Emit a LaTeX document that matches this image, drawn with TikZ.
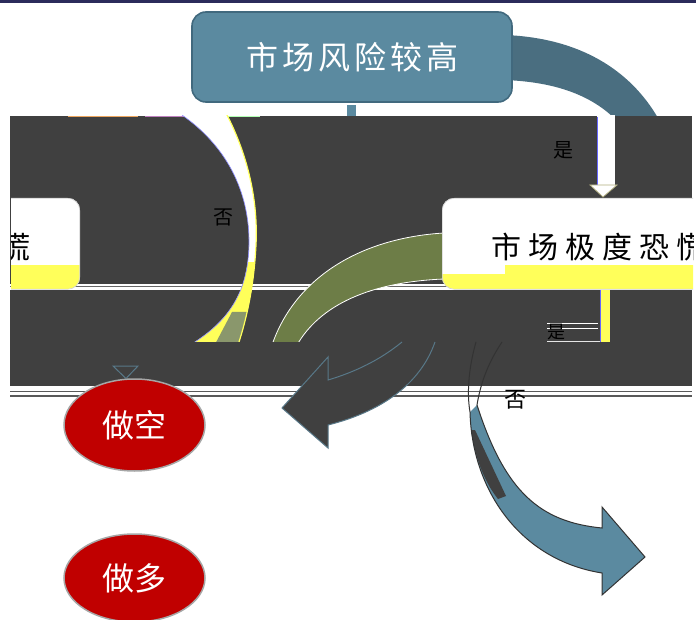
\documentclass[tikz,border=0pt]{standalone}
\usepackage{fontspec}
\newfontfamily\cjk{Noto Sans CJK SC}
\usetikzlibrary{shapes.geometric}
\definecolor{dk}{HTML}{404040}
\definecolor{tb}{HTML}{5B8AA0}
\definecolor{tbb}{HTML}{41697E}
\definecolor{ta}{HTML}{4A6E80}
\definecolor{ol}{HTML}{6D7D47}
\definecolor{ye}{HTML}{FFFF5A}
\definecolor{rd}{HTML}{C00000}
\definecolor{nv}{HTML}{2B2B5B}
\definecolor{ln}{HTML}{587888}
\tikzset{
  lbl/.style={inner sep=0pt, text=black, font=\cjk\fontsize{20}{20}\selectfont},
  oval/.style={ellipse, fill=rd, draw=gray!70, line width=1.5pt, minimum width=141pt, inner sep=0pt, text=white, font=\cjk\fontsize{32}{32}\selectfont},
  panelbox/.style={draw=gray!35, line width=0.6pt, rounded corners=12pt, inner sep=0pt},
  darkband/.style={fill=dk}
}
\begin{document}
\begin{tikzpicture}[x=1pt,y=-1pt]
\useasboundingbox (0,0) rectangle (696,620);
\fill[white] (0,0) rectangle (696,620);
\fill[nv] (0,0) rectangle (696,3.5);

% curved arrow leaving the top box
\fill[ta] (505,35) .. controls (580,38) and (630,70) .. (658,118) -- (614,118) .. controls (590,95) and (555,82) .. (505,80) -- cycle;

% top box
\node[fill=tb, draw=tbb, line width=1.6pt, rounded corners=14pt, minimum width=320pt, minimum height=90pt, inner sep=0pt, text=white, font=\cjk\fontsize{32}{32}\selectfont] (risk) at (352,57) {市\kern4pt 场\kern4pt 风\kern4pt 险\kern4pt 较\kern4pt 高};
\fill[tb] (347,105) rectangle (356,117);

% dark bands
\fill[darkband] (10,116) rectangle (692,284);
\fill[darkband] (10,290) rectangle (692,386);
\draw[gray!80!black, line width=1pt] (10,287) -- (692,287);
\draw[gray!70!black, line width=0.8pt] (10,391) -- (692,391);
\draw[gray!70!black, line width=1.6pt] (10,396) -- (692,396);
\draw[orange!60!brown!70, line width=0.8pt] (68,116.5) -- (138,116.5);
\draw[violet!50, line width=0.8pt] (145,116.5) -- (185,116.5);
\draw[green!30, line width=0.8pt] (195,116.5) -- (260,116.5);

% visible layer inside the bands
\begin{scope}
\clip (10,116) rectangle (692,342);
\def\crescent{(227,115) .. controls (250,160) and (258,205) .. (256,245) .. controls (254,285) and (247,318) .. (238,345) -- (190,345) .. controls (235,318) and (248,285) .. (249,245) .. controls (250,190) and (225,145) .. (182,115) -- cycle}
\fill[white] \crescent;
\begin{scope}
\clip \crescent;
\fill[ye] (150,262) rectangle (270,350);
\fill[ol!80] (232,312) -- (260,312) -- (260,350) -- (212,350) -- cycle;
\end{scope}
\draw[ye, line width=1.2pt] (227,115) .. controls (250,160) and (258,205) .. (256,245) .. controls (254,285) and (247,318) .. (238,345);
\draw[blue!45, line width=0.6pt] (190,345) .. controls (235,318) and (248,285) .. (249,245) .. controls (250,190) and (225,145) .. (182,115);
% olive arc
\filldraw[fill=ol, draw=white, line width=0.8pt] (444,233) .. controls (360,238) and (295,278) .. (272,345) -- (297,345) .. controls (320,305) and (370,282) .. (444,279) -- cycle;
\end{scope}

% left box (cut by the left edge)
\begin{scope}
\clip (11,180) rectangle (120,300);
\begin{scope}
\clip[rounded corners=12pt] (-120,198) rectangle (80,289);
\fill[white] (-120,198) rectangle (80,289);
\fill[ye] (-120,265) rectangle (80,289);
\end{scope}
\node[panelbox, minimum width=200pt, minimum height=91pt, anchor=north east] (calm) at (80,198) {};
\node[inner sep=0pt, text=black, font=\cjk\fontsize{30}{30}\selectfont] (calmtxt) at (16,247) {慌};
\end{scope}

% right box (cut by the right edge)
\begin{scope}
\clip (430,180) rectangle (693,300);
\begin{scope}
\clip[rounded corners=12pt] (442,198) rectangle (742,289);
\fill[white] (442,198) rectangle (742,289);
\fill[ye] (505,265) rectangle (742,289);
\fill[ye] (442,274) rectangle (505,289);
\end{scope}
\node[panelbox, minimum width=300pt, minimum height=91pt, anchor=north west] (panic) at (442,198) {};
\node[inner sep=0pt, anchor=west, text=black, font=\cjk\fontsize{30}{30}\selectfont] (panictxt) at (491,247) {市\kern7pt 场\kern7pt 极\kern7pt 度\kern7pt 恐\kern7pt 慌};
\end{scope}

% white arrow down to the right box
\fill[white] (597,115) rectangle (615,186);
\draw[blue!60, line width=0.6pt] (597,117) -- (597,186);
\filldraw[fill=white, draw=olive!40!gray!70, line width=0.8pt] (590,185) -- (617,185) -- (603,197) -- cycle;
\node[lbl] (yes1) at (563,150) {是};
\node[lbl] (no1) at (223,217) {否};

% yellow stripe below the right box
\fill[ye] (600,290) rectangle (610,342);
\draw[blue!60, line width=0.6pt] (600,290) -- (600,342);

% cover of the lower band
\fill[darkband] (10,342) rectangle (692,386);
\draw[white, line width=0.7pt] (547,323) -- (598,323);
\draw[white, line width=0.7pt] (547,328) -- (598,328);
\draw[white!80!gray, line width=0.8pt] (547,341.5) -- (600,341.5);
\node[lbl, font=\cjk\fontsize{18}{18}\selectfont] (yes2) at (556,332) {是};

% dark curved arrow pointing left
\fill[dk] (402,342) .. controls (380,360) and (355,372) .. (328,380) -- (328,357) -- (282,408) -- (328,448) -- (328,425) .. controls (380,412) and (420,385) .. (435,342) -- cycle;
\draw[ln, line width=1pt, line join=miter] (402,342) .. controls (380,360) and (355,372) .. (328,380) -- (328,357) -- (282,408) -- (328,448) -- (328,425) .. controls (380,412) and (420,385) .. (435,342);

% blue curved arrow pointing right
\fill[tb] (470,412) .. controls (472,490) and (520,560) .. (602,573) -- (602,595) -- (645,557) -- (602,507) -- (602,528) .. controls (540,522) and (505,492) .. (477,405) -- cycle;
\fill[dk] (471,430) -- (475,430) -- (506,496) -- (498,499) .. controls (486,484) and (476,462) .. (471,430) -- cycle;
\draw[dk!80!black, line width=1pt, line join=miter] (476,342) .. controls (468,370) and (467,395) .. (470,412) .. controls (472,490) and (520,560) .. (602,573) -- (602,595) -- (645,557) -- (602,507) -- (602,528) .. controls (540,522) and (505,492) .. (477,405) .. controls (481,380) and (490,360) .. (502,342);
\node[lbl, font=\cjk\fontsize{22}{22}\selectfont] (no2) at (515,400) {否};

% small arrowhead above the first oval
\filldraw[fill=dk, draw=ln, line width=1pt] (113,366) -- (138,366) -- (126,378.5) -- cycle;

% ovals
\node[oval, minimum height=92pt] (short) at (134.5,425) {做空};
\node[oval, minimum height=88pt] (long) at (134.5,578) {做多};
\end{tikzpicture}
\end{document}
